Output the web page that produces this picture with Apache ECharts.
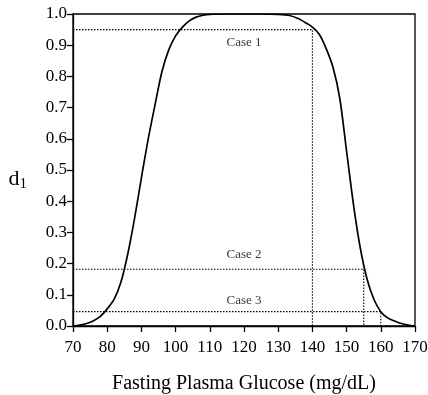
<!DOCTYPE html>
<html><head><meta charset="utf-8">
<script src="https://cdn.jsdelivr.net/npm/echarts@6/dist/echarts.min.js"></script>
<style>html,body{margin:0;padding:0;background:#fff}#c{width:428px;height:395px}</style>
</head><body><div id="c"></div>
<script>
const glucose = [70,72,74,76,78,80,82,84,86,88,90,92,94,96,98,100,102,104,106,108,110,115,120,125,130,133,136,138,140,142,144,146,148,150,152,154,156,158,160,162,164,166,168,170];
const d1 = [0,0.003,0.008,0.017,0.031,0.055,0.085,0.14,0.23,0.345,0.475,0.6,0.71,0.815,0.885,0.93,0.958,0.978,0.99,0.996,0.999,1.0,1.0,1.0,0.999,0.996,0.985,0.972,0.958,0.935,0.89,0.83,0.73,0.56,0.39,0.25,0.15,0.085,0.046,0.026,0.016,0.008,0.003,0];
const caseNames = ['Case 1','Case 2','Case 3'];
const caseGlucose = [140,155,160];
const caseD = [0.95,0.182,0.046];
const caseLabelX = [120,120,120];
const caseLabelY = [0.908,0.228,0.083];
const xTicks = [70,80,90,100,110,120,130,140,150,160,170];
const yTicks = [0,0.1,0.2,0.3,0.4,0.5,0.6,0.7,0.8,0.9,1.0];

const font = 'Liberation Serif';
const series = [{
  type:'line', data: glucose.map((g,i)=>[g,d1[i]]), smooth:0.3, symbol:'none',
  lineStyle:{color:'#000',width:1.7}, z:5
}];
caseNames.forEach((n,i)=>{
  series.push({
    type:'line', symbol:'none', silent:true,
    data:[[70,caseD[i]],[caseGlucose[i],caseD[i]],[caseGlucose[i],0]],
    lineStyle:{color:'#000',width:1.1,type:[1.5,1.5]}
  });
});
series.push({
  type:'scatter', symbolSize:0,
  data: caseNames.map((n,i)=>({value:[caseLabelX[i],caseLabelY[i]],name:n})),
  label:{show:true,position:'inside',formatter:p=>p.name,color:'#000',fontFamily:font,fontSize:13}
});
const chart = echarts.init(document.getElementById('c'));
chart.setOption({
  animation:false,
  grid:{left:73,right:13,top:14,bottom:69,show:true,borderColor:'#000',borderWidth:1.3,containLabel:false,outerBoundsMode:'none'},
  xAxis:{type:'value',min:70,max:170,interval:10,
    name:'Fasting Plasma Glucose (mg/dL)',nameLocation:'middle',nameGap:48,
    nameTextStyle:{fontFamily:font,fontSize:20,color:'#000'},
    axisLine:{lineStyle:{color:'#000',width:1.3}},
    axisTick:{length:6,lineStyle:{color:'#000',width:1.3}},
    axisLabel:{fontFamily:font,fontSize:17,color:'#000',margin:13,formatter:v=>xTicks.includes(v)?String(v):''},
    splitLine:{show:false}},
  yAxis:{type:'value',min:0,max:1,interval:0.1,
    name:'d{s|1}',nameLocation:'middle',nameRotate:0,nameGap:46,
    nameTextStyle:{fontFamily:font,fontSize:22,color:'#000',padding:[0,0,-18,0],rich:{s:{fontFamily:font,fontSize:15,color:'#000',verticalAlign:'bottom',padding:[10,0,0,0]}}},
    axisLine:{lineStyle:{color:'#000',width:1.3}},
    axisTick:{length:6,lineStyle:{color:'#000',width:1.3}},
    axisLabel:{fontFamily:font,fontSize:17,color:'#000',margin:6,formatter:v=>{const t=yTicks.find(y=>Math.abs(y-v)<1e-6);return t===undefined?'':t.toFixed(1);}},
    splitLine:{show:false}},
  series
});
</script></body></html>
